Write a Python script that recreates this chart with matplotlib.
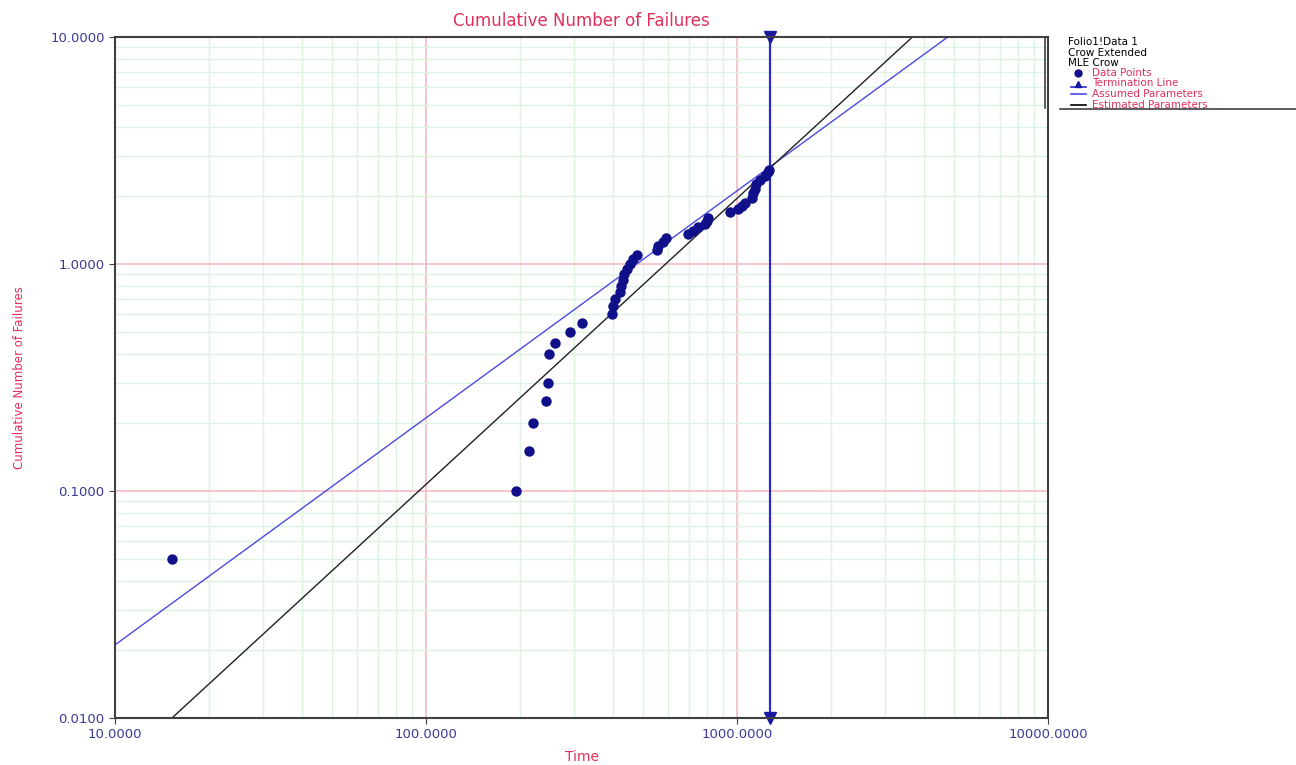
import numpy as np
import matplotlib
matplotlib.use('Agg')
import matplotlib.pyplot as plt
from matplotlib.lines import Line2D
from matplotlib.ticker import FixedLocator, FormatStrFormatter, NullFormatter, LogLocator

# Data
times = [15.2, 194.5, 214, 221, 243, 247, 248, 260, 290, 318,
         395, 400, 405, 419, 423, 429, 434, 444, 454, 462, 476,
         552, 557, 577, 590, 697, 723, 750, 789, 800, 809,
         950, 1009, 1040, 1062, 1120, 1128, 1140, 1150, 1190, 1230, 1255, 1265]
cum_failures = [0.05, 0.10, 0.15, 0.20, 0.25, 0.30, 0.40, 0.45, 0.50, 0.55,
                0.60, 0.65, 0.70, 0.75, 0.80, 0.85, 0.90, 0.95, 1.00, 1.05, 1.10,
                1.15, 1.20, 1.25, 1.30, 1.35, 1.40, 1.45, 1.50, 1.55, 1.60,
                1.70, 1.75, 1.80, 1.85, 1.95, 2.05, 2.15, 2.25, 2.35, 2.45, 2.55, 2.60]

term_time = 1276

# Crow model parameters (N = lam * t ** beta)
assumed_lam, assumed_beta = 0.0021, 1.0
est_lam, est_beta = 3.23e-4, 1.26

x_ticks = [10, 100, 1000, 10000]
y_ticks = [0.01, 0.1, 1, 10]

RED = '#e0305a'
NAVY = '#3a3a96'

fig = plt.figure(figsize=(12.96, 7.65), dpi=100)
ax = fig.add_axes([115 / 1296, 47 / 765, 933 / 1296, 681 / 765])
ax.set_xscale('log')
ax.set_yscale('log')
ax.set_xlim(10, 10000)
ax.set_ylim(0.01, 10)

# grid
ax.xaxis.set_minor_locator(LogLocator(base=10, subs=np.arange(2, 10)))
ax.yaxis.set_minor_locator(LogLocator(base=10, subs=np.arange(2, 10)))
ax.xaxis.set_minor_formatter(NullFormatter())
ax.yaxis.set_minor_formatter(NullFormatter())
ax.grid(which='minor', color='#dff3e3', linewidth=1.0)
ax.grid(which='major', color='#f2bcc4', linewidth=1.2)
ax.set_axisbelow(True)

tt = np.logspace(1, 4, 200)
ax.plot(tt, assumed_lam * tt ** assumed_beta, color='#4a4ae0', linewidth=1.0)
ax.plot(tt, est_lam * tt ** est_beta, color='#202020', linewidth=1.0)

ax.axvline(term_time, color='#2a2ad0', linewidth=1.6)
ax.plot([term_time], [10], marker='v', color='#1a1aa0', markersize=9, clip_on=False)
ax.plot([term_time], [0.01], marker='v', color='#1a1aa0', markersize=9, clip_on=False)

ax.plot(times, cum_failures, 'o', color='#10108a', markersize=7.5, markeredgewidth=0)

ax.xaxis.set_major_locator(FixedLocator(x_ticks))
ax.yaxis.set_major_locator(FixedLocator(y_ticks))
ax.xaxis.set_major_formatter(FormatStrFormatter('%.4f'))
ax.yaxis.set_major_formatter(FormatStrFormatter('%.4f'))
ax.tick_params(which='major', length=4, color='#404040', labelcolor=NAVY, labelsize=9.5)
ax.tick_params(which='minor', length=0)
for s in ax.spines.values():
    s.set_color('#404040')
    s.set_linewidth(1.5)

ax.set_title('Cumulative Number of Failures', color=RED, fontsize=12, pad=8)


def fy(py):
    return 1 - py / 765


def fx(px):
    return px / 1296


fig.text(fx(582), fy(757), 'Time', color=RED, fontsize=10, ha='center', va='center')
fig.text(fx(20), fy(378), 'Cumulative Number of Failures', color=RED, fontsize=8.5,
         rotation=90, ha='center', va='center')

# legend block on the right
for i, s in enumerate(['Folio1!Data 1', 'Crow Extended', 'MLE Crow']):
    fig.text(fx(1068), fy(42 + 10.5 * i), s, fontsize=7.5, color='black', va='center')

entries = ['Data Points', 'Termination Line', 'Assumed Parameters', 'Estimated Parameters']
for i, s in enumerate(entries):
    y = fy(73 + 10.5 * i)
    fig.text(fx(1092), y, s, fontsize=7.5, color=RED, va='center')
    if i == 0:
        fig.add_artist(Line2D([fx(1078)], [y], marker='o', color='#10108a', markersize=5))
    elif i == 1:
        fig.add_artist(Line2D([fx(1071), fx(1086)], [y - 0.004, y - 0.004], color='#2a2ad0', linewidth=1.2))
        fig.add_artist(Line2D([fx(1078)], [y], marker='^', color='#1a1aa0', markersize=5))
    elif i == 2:
        fig.add_artist(Line2D([fx(1071), fx(1086)], [y, y], color='#4a4ae0', linewidth=1.2))
    else:
        fig.add_artist(Line2D([fx(1071), fx(1086)], [y, y], color='black', linewidth=1.2))

fig.add_artist(Line2D([fx(1045), fx(1045)], [fy(37), fy(108)], color='#404040', linewidth=1.2))
fig.add_artist(Line2D([fx(1060), fx(1296)], [fy(109), fy(109)], color='#404040', linewidth=1.2))

fig.savefig('out.png', dpi=100)
